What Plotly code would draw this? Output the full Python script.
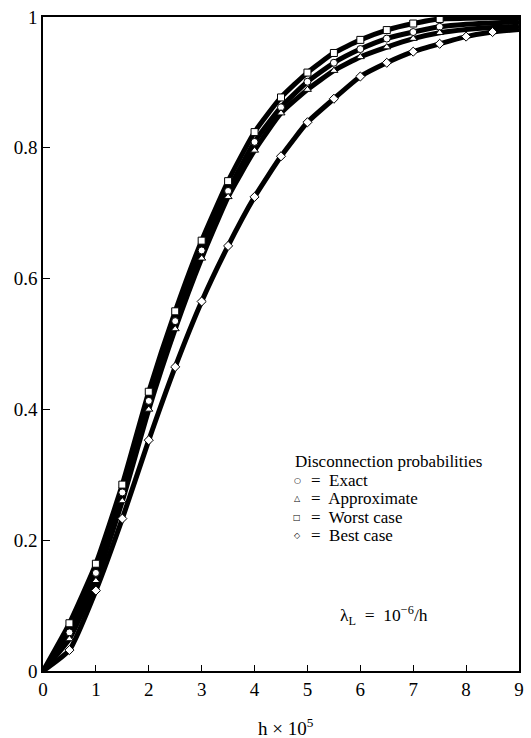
import plotly.graph_objects as go

# Data
h = [0, 0.5, 1, 1.5, 2, 2.5, 3, 3.5, 4, 4.5, 5, 5.5, 6, 6.5, 7, 7.5, 8, 8.5, 9]
exact = [0, 0.059, 0.150, 0.273, 0.413, 0.535, 0.643, 0.734, 0.809, 0.862, 0.901,
         0.930, 0.951, 0.967, 0.977, 0.985, 0.989, 0.991, 0.993]
approx = [0, 0.049, 0.138, 0.260, 0.400, 0.523, 0.631, 0.725, 0.796, 0.853, 0.889,
          0.918, 0.939, 0.954, 0.967, 0.976, 0.981, 0.984, 0.986]
worst = [0, 0.073, 0.164, 0.285, 0.427, 0.550, 0.658, 0.749, 0.824, 0.877, 0.915,
         0.945, 0.965, 0.980, 0.990, 0.997, 0.998, 0.999, 0.999]
best = [0, 0.032, 0.123, 0.233, 0.353, 0.465, 0.565, 0.650, 0.725, 0.787, 0.839,
        0.875, 0.909, 0.930, 0.947, 0.959, 0.970, 0.977, 0.981]

series = [
    ("Exact", exact, "circle", 15),
    ("Approximate", approx, "triangle-up", 15),
    ("Worst case", worst, "square", 15),
    ("Best case", best, "diamond", 17),
]

xticks = [0, 1, 2, 3, 4, 5, 6, 7, 8, 9]
yticks = [0, 0.2, 0.4, 0.6, 0.8, 1]

FONT = "'Times New Roman', 'Liberation Serif', 'DejaVu Serif', serif"

fig = go.Figure()

# curves
for name, vals, sym, last in series:
    fig.add_trace(go.Scatter(
        x=h, y=vals, mode="lines", name=name, showlegend=False,
        line=dict(color="black", width=5, shape="spline", smoothing=0.5),
        hoverinfo="skip"))

# markers
for name, vals, sym, last in series:
    fig.add_trace(go.Scatter(
        x=h[1:last + 1], y=vals[1:last + 1], mode="markers", name=name,
        showlegend=False,
        marker=dict(symbol=sym, size=7,
                    color="white", line=dict(color="black", width=1))))

legend_lines = [
    ("\u25CB", "Exact"),
    ("\u25B3", "Approximate"),
    ("\u25A1", "Worst case"),
    ("\u25C7", "Best case"),
]

annotations = []
L, T, PW, PH = 43, 12, 481, 659
def px(xp):
    return (xp - L) / PW
def py(yp):
    return 1 - (yp - T) / PH

annotations.append(dict(text="Disconnection probabilities", x=px(297), y=py(460),
                        xref="paper", yref="paper", xanchor="left", yanchor="middle",
                        showarrow=False, borderpad=0,
                        font=dict(family=FONT, size=17, color="black")))
for i, (sym, txt) in enumerate(legend_lines):
    yy = 479 + i * 18.5
    annotations.append(dict(text=sym, x=px(300), y=py(yy), xref="paper", yref="paper",
                            xanchor="center", yanchor="middle", showarrow=False,
                            borderpad=0,
                            font=dict(family="DejaVu Sans", size=8, color="black")))
    annotations.append(dict(text="=  " + txt, x=px(313), y=py(yy), xref="paper", yref="paper",
                            xanchor="left", yanchor="middle", showarrow=False,
                            borderpad=0,
                            font=dict(family=FONT, size=17, color="black")))

annotations.append(dict(text="\u03bb<sub>L</sub>  =  10<sup>\u22126</sup>/h", x=px(388), y=py(615),
                        xref="paper", yref="paper", xanchor="center", yanchor="middle",
                        showarrow=False, font=dict(family=FONT, size=17.5, color="black")))
annotations.append(dict(text="h \u00d7 10<sup>5</sup>", x=px(289), y=py(727),
                        xref="paper", yref="paper", xanchor="center", yanchor="middle",
                        showarrow=False, font=dict(family=FONT, size=19, color="black")))

fig.update_layout(
    width=531, height=738,
    margin=dict(l=L, r=531 - L - PW, t=T, b=738 - T - PH),
    paper_bgcolor="white", plot_bgcolor="white",
    font=dict(family=FONT, size=18, color="black"),
    showlegend=False,
    annotations=annotations,
    xaxis=dict(range=[0, 9], tickvals=xticks, ticks="inside", ticklen=6,
               tickcolor="black", showline=True, linecolor="black", linewidth=1.5,
               mirror=True, showgrid=False, zeroline=False,
               tickfont=dict(family=FONT, size=19, color="black")),
    yaxis=dict(range=[0, 1], tickvals=yticks, ticks="inside", ticklen=7,
               tickcolor="black", showline=True, linecolor="black", linewidth=1.5,
               mirror=True, showgrid=False, zeroline=False,
               tickfont=dict(family=FONT, size=19, color="black")),
)

fig.write_html("out.html")
